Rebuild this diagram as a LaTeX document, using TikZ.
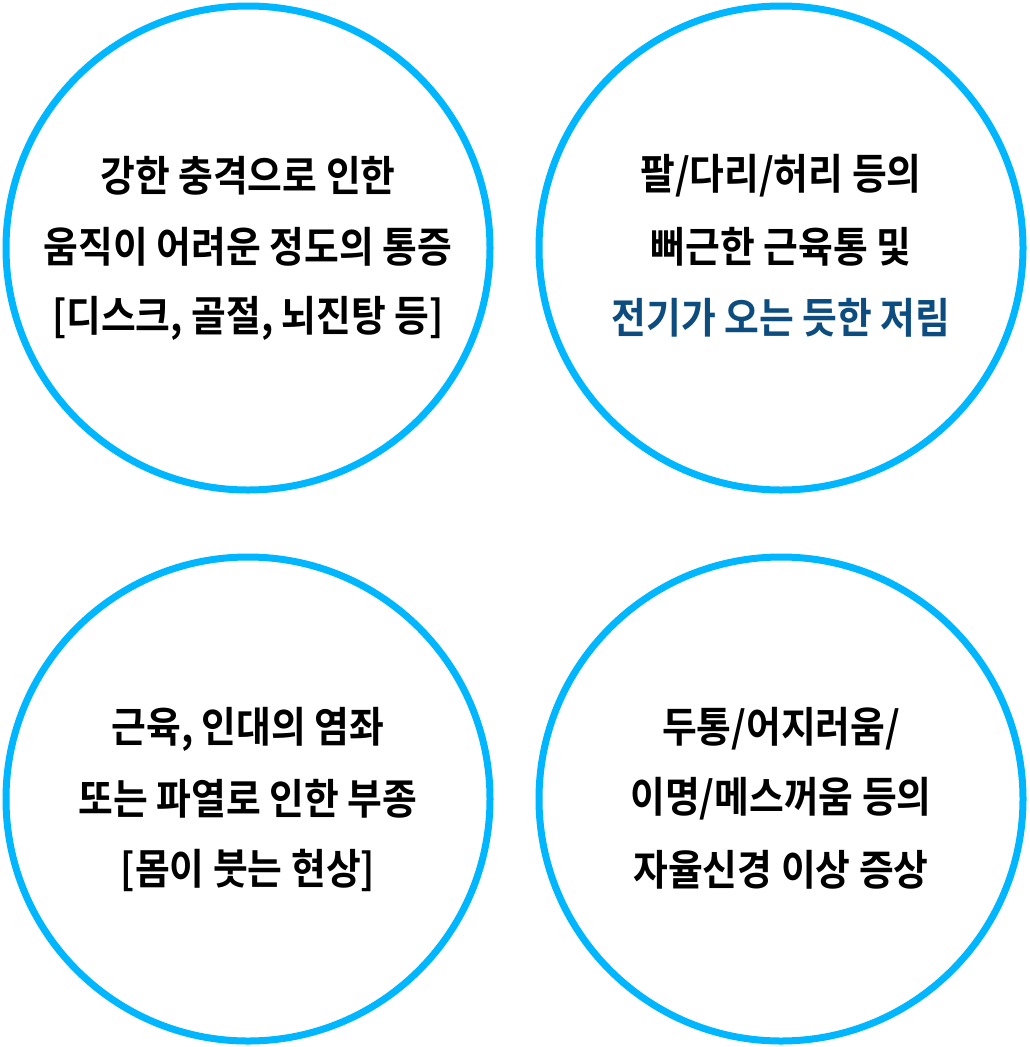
\documentclass[tikz,border=0pt]{standalone}
\usepackage{fontspec}
\newfontfamily\kr{Noto Sans CJK KR}[BoldFont={Noto Sans CJK KR Bold},FakeStretch=0.9]
\definecolor{ring}{RGB}{0,182,255}
\definecolor{deepblue}{RGB}{12,76,126}
\begin{document}
\begin{tikzpicture}[x=1pt,y=-1pt,
  ring/.style={draw=ring,line width=7pt,circle,minimum size=484pt,inner sep=0pt},
  txt/.style={font=\kr\bfseries\fontsize{42}{71}\selectfont,align=center,text=black,inner sep=0pt}]
\useasboundingbox (0,0) rectangle (1029,1047);
\node[ring] (c1) at (248,248) {};
\node[ring] (c2) at (781,248) {};
\node[ring] (c3) at (248,799) {};
\node[ring] (c4) at (781,799) {};
\node[txt] (t1a) at (248,176) {강한 충격으로 인한};
\node[txt] (t1b) at (248,247) {움직이 어려운 정도의 통증};
\node[txt] (t1c) at (248,318) {[디스크, 골절, 뇌진탕 등]};
\node[txt] (t2a) at (781,176) {팔/다리/허리 등의};
\node[txt] (t2b) at (781,247) {뻐근한 근육통 및};
\node[txt,text=deepblue] (t2c) at (781,318) {전기가 오는 듯한 저림};
\node[txt] (t3a) at (248,729) {근육, 인대의 염좌};
\node[txt] (t3b) at (248,799) {또는 파열로 인한 부종};
\node[txt] (t3c) at (248,870) {[몸이 붓는 현상]};
\node[txt] (t4a) at (781,729) {두통/어지러움/};
\node[txt] (t4b) at (781,799) {이명/메스꺼움 등의};
\node[txt] (t4c) at (781,870) {자율신경 이상 증상};
\end{tikzpicture}
\end{document}
